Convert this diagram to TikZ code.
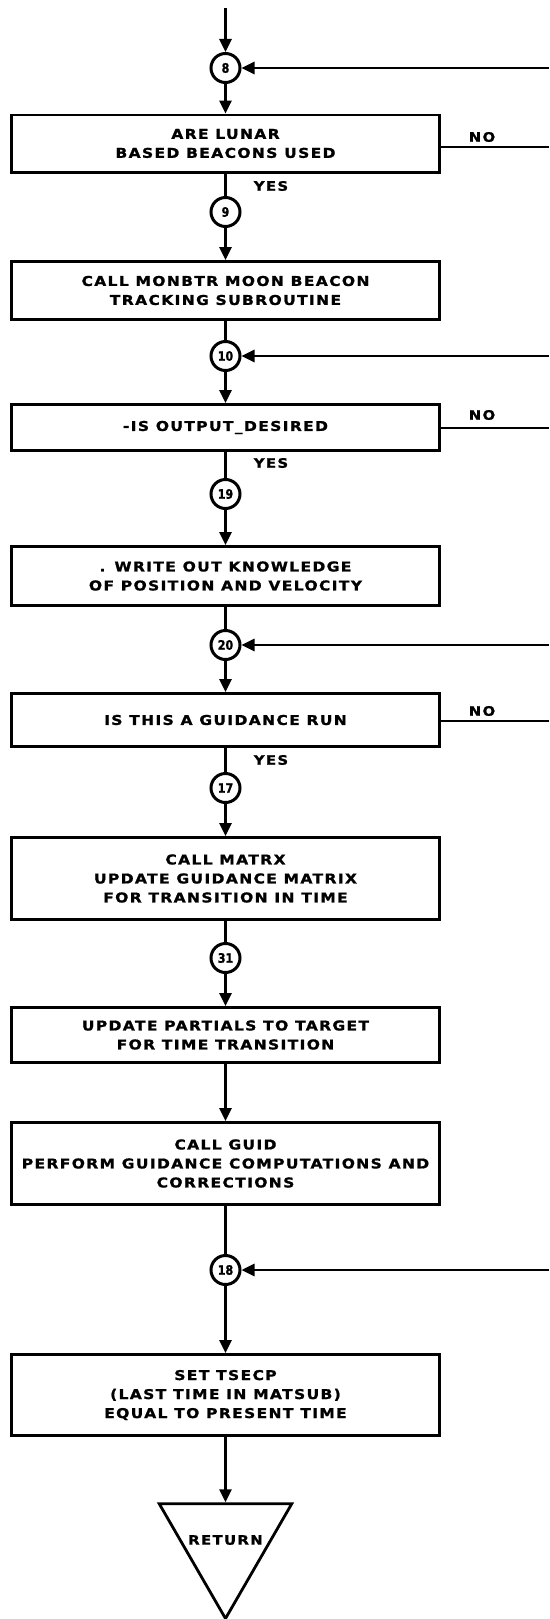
\documentclass[tikz,border=0pt]{standalone}
\usepackage{fontspec}
\setmainfont{DejaVu Sans}
\newfontfamily\chartfont{DejaVu Sans Bold}[FakeStretch=1.15,LetterSpace=10,FakeBold=1.2]
\newfontfamily\tagfont{DejaVu Sans Bold}[FakeStretch=0.85,FakeBold=1.2]
\usetikzlibrary{arrows.meta,shapes.geometric}

\tikzset{
  stepbox/.style={draw, line width=2.8pt, minimum width=428.2pt, inner sep=0pt,
    align=center, font=\chartfont\fontsize{13.5}{19}\selectfont},
  conn/.style={circle, draw, line width=3pt, minimum size=29pt, inner sep=0pt,
    font=\tagfont\fontsize{13}{13}\selectfont},
  flow/.style={line width=2.8pt},
  arr/.style={flow, -{Triangle[length=13pt,width=12pt]}},
  lbl/.style={font=\chartfont\fontsize{13}{13}\selectfont, inner sep=0pt},
  retshape/.style={draw, line width=2.8pt, regular polygon, regular polygon sides=3,
    shape border rotate=180, minimum size=153pt, inner sep=0pt},
}

\begin{document}
\begin{tikzpicture}[x=1pt,y=-1pt]
\useasboundingbox (0,0) rectangle (549,1619);

% connectors (page references)
\node[conn] (c8)  at (225.5,68)   {8};
\node[conn] (c9)  at (225.5,212)  {9};
\node[conn] (c10) at (225.5,356)  {10};
\node[conn] (c19) at (225.5,494)  {19};
\node[conn] (c20) at (225.5,645)  {20};
\node[conn] (c17) at (225.5,788)  {17};
\node[conn] (c31) at (225.5,958)  {31};
\node[conn] (c18) at (225.5,1270) {18};

% process and decision boxes
\node[stepbox, minimum height=57.2pt] (b1) at (225.5,143.5)
  {ARE LUNAR\\BASED BEACONS USED};
\node[stepbox, minimum height=58.2pt] (b2) at (225.5,290.5)
  {CALL MONBTR MOON BEACON\\TRACKING SUBROUTINE};
\node[stepbox, minimum height=46.2pt] (b3) at (225.5,427.5)
  {-IS OUTPUT\_DESIRED};
\node[stepbox, minimum height=59.2pt] (b4) at (225.5,576)
  {. WRITE OUT KNOWLEDGE\\OF POSITION AND VELOCITY};
\node[stepbox, minimum height=53.2pt] (b5) at (225.5,720)
  {IS THIS A GUIDANCE RUN};
\node[stepbox, minimum height=82.2pt] (b6) at (225.5,878.5)
  {CALL MATRX\\UPDATE GUIDANCE MATRIX\\FOR TRANSITION IN TIME};
\node[stepbox, minimum height=55.2pt] (b7) at (225.5,1035)
  {UPDATE PARTIALS TO TARGET\\FOR TIME TRANSITION};
\node[stepbox, minimum height=82.2pt] (b8) at (225.5,1163.5)
  {CALL GUID\\PERFORM GUIDANCE COMPUTATIONS AND\\CORRECTIONS};
\node[stepbox, minimum height=81.2pt] (b9) at (225.5,1395)
  {SET TSECP\\(LAST TIME IN MATSUB)\\EQUAL TO PRESENT TIME};

% terminal
\node[retshape] (ret) at (225.5,1542) {};
\node[font=\chartfont\fontsize{13}{13}\selectfont] (rettext) at (225.5,1540) {RETURN};

% free ends at the right margin
\coordinate (top) at (225.5,8);
\coordinate (r8)  at (549,68);
\coordinate (r10) at (549,356);
\coordinate (r20) at (549,645);
\coordinate (r18) at (549,1270);
\coordinate (n1)  at (549,147);
\coordinate (n3)  at (549,428);
\coordinate (n5)  at (549,721);

% main flow
\draw[arr] (top) -- (c8.north);
\draw[arr] (c8) -- (b1.north);
\draw[flow] (b1) -- (c9);
\draw[arr] (c9) -- (b2.north);
\draw[flow] (b2) -- (c10);
\draw[arr] (c10) -- (b3.north);
\draw[flow] (b3) -- (c19);
\draw[arr] (c19) -- (b4.north);
\draw[flow] (b4) -- (c20);
\draw[arr] (c20) -- (b5.north);
\draw[flow] (b5) -- (c17);
\draw[arr] (c17) -- (b6.north);
\draw[flow] (b6) -- (c31);
\draw[arr] (c31) -- (b7.north);
\draw[arr] (b7) -- (b8.north);
\draw[flow] (b8) -- (c18);
\draw[arr] (c18) -- (b9.north);
\draw[arr] (b9) -- (ret.north);

% returns entering from the right
\draw[arr] (r8)  -- (c8.east);
\draw[arr] (r10) -- (c10.east);
\draw[arr] (r20) -- (c20.east);
\draw[arr] (r18) -- (c18.east);

% NO exits
\draw[flow] (b1.east |- n1) -- (n1);
\draw[flow] (b3.east |- n3) -- (n3);
\draw[flow] (b5.east |- n5) -- (n5);
\node[lbl] (no1) at (482,137) {NO};
\node[lbl] (no3) at (482,415) {NO};
\node[lbl] (no5) at (482,711) {NO};

% YES labels
\node[lbl] (yes1) at (271,186) {YES};
\node[lbl] (yes3) at (271,463) {YES};
\node[lbl] (yes5) at (271,760) {YES};
\end{tikzpicture}
\end{document}
